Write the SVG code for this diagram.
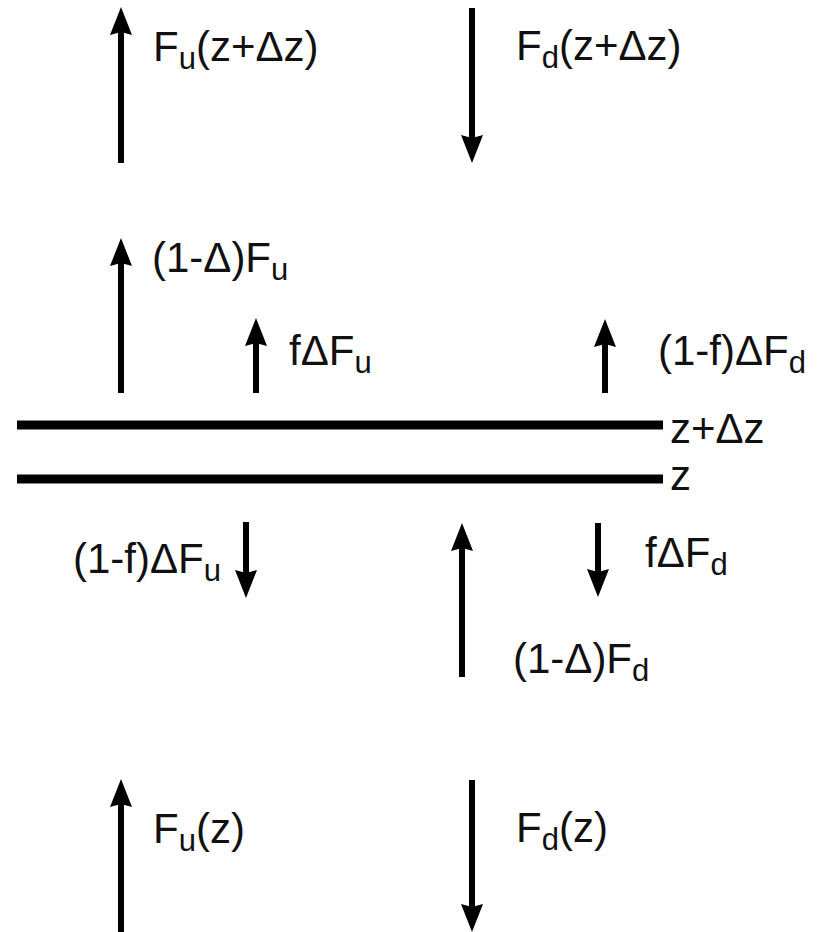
<svg xmlns="http://www.w3.org/2000/svg" width="817" height="932" viewBox="0 0 817 932">
<style>
.arr{stroke:#000;stroke-width:6;fill:none;marker-end:url(#ah)}
.bar{fill:#000}
.t{font-family:"Liberation Sans",Arial,sans-serif;font-size:42px;fill:#111}
.s{font-size:31px}
</style>
<defs>
<marker id="ah" markerUnits="userSpaceOnUse" markerWidth="40" markerHeight="40" refX="3" refY="0" orient="auto" overflow="visible">
<path d="M0,-11 L28,0 L0,11 L3,0 Z" fill="#000"/>
</marker>
</defs>
<rect width="817" height="932" fill="#fff"/>
<g id="layers">
<rect class="bar" x="17" y="420.5" width="646" height="9"/>
<rect class="bar" x="17" y="474.5" width="646" height="9"/>
<text class="t" x="670" y="443">z+Δz</text>
<text class="t" x="670" y="490">z</text>
</g>
<g id="connectors">
<line class="arr" x1="121" y1="163" x2="121" y2="32"/>
<line class="arr" x1="472" y1="8" x2="472" y2="138"/>
<line class="arr" x1="121" y1="393" x2="121" y2="263"/>
<line class="arr" x1="256" y1="393" x2="256" y2="343"/>
<line class="arr" x1="605" y1="393" x2="605" y2="344"/>
<line class="arr" x1="246" y1="522" x2="246" y2="573"/>
<line class="arr" x1="462" y1="677" x2="462" y2="548"/>
<line class="arr" x1="598" y1="523" x2="598" y2="572"/>
<line class="arr" x1="121" y1="935" x2="121" y2="804"/>
<line class="arr" x1="472" y1="780" x2="472" y2="907"/>
</g>
<g id="labels">
<text class="t" x="153" y="61">F<tspan class="s" dy="8">u</tspan><tspan dy="-8">(z+Δz)</tspan></text>
<text class="t" x="516" y="60">F<tspan class="s" dy="8">d</tspan><tspan dy="-8">(z+Δz)</tspan></text>
<text class="t" x="152" y="272">(1-Δ)F<tspan class="s" dy="8">u</tspan></text>
<text class="t" x="289" y="365">fΔF<tspan class="s" dy="8">u</tspan></text>
<text class="t" x="658" y="365">(1-f)ΔF<tspan class="s" dy="8">d</tspan></text>
<text class="t" x="73" y="573">(1-f)ΔF<tspan class="s" dy="8">u</tspan></text>
<text class="t" x="645" y="567">fΔF<tspan class="s" dy="8">d</tspan></text>
<text class="t" x="513" y="673">(1-Δ)F<tspan class="s" dy="8">d</tspan></text>
<text class="t" x="153" y="843">F<tspan class="s" dy="8">u</tspan><tspan dy="-8">(z)</tspan></text>
<text class="t" x="516" y="842">F<tspan class="s" dy="8">d</tspan><tspan dy="-8">(z)</tspan></text>
</g>
</svg>
